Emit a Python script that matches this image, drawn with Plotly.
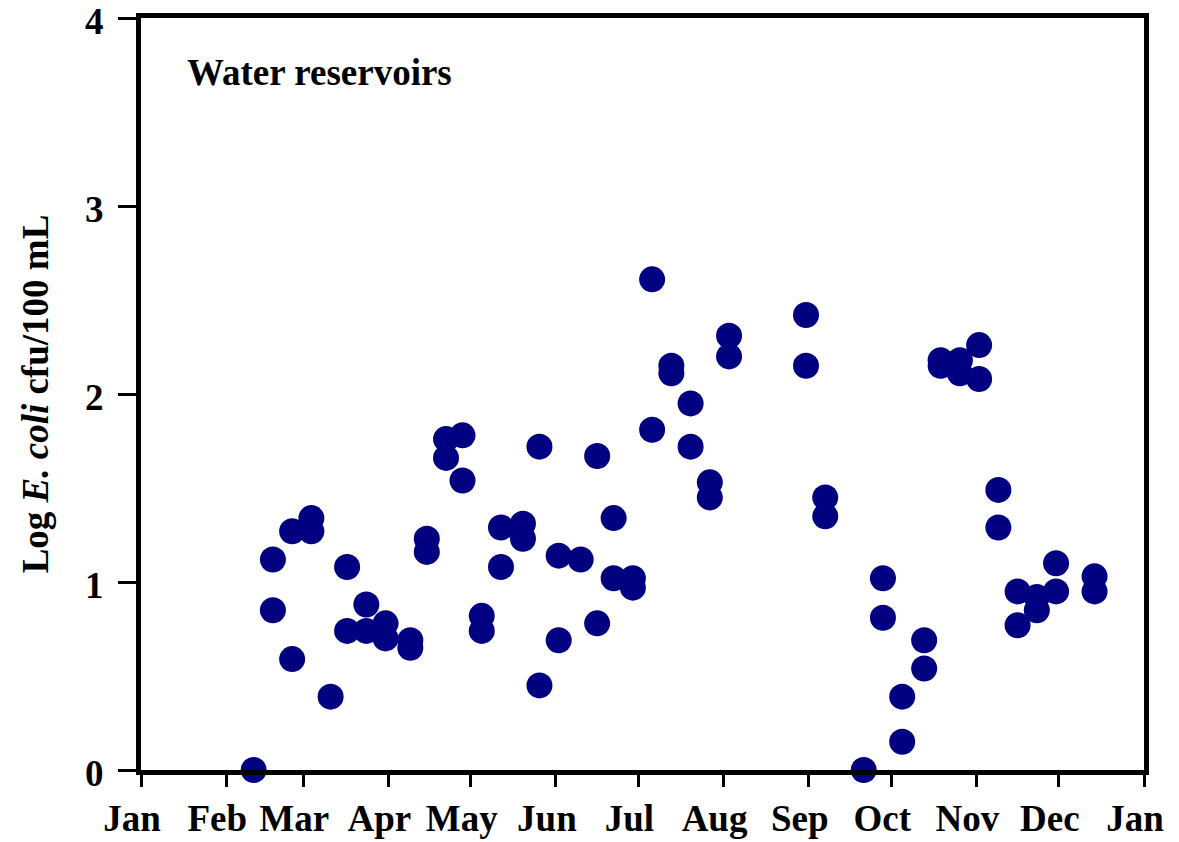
import plotly.graph_objects as go

# sampling dates (2001, non-leap) and log E. coli counts
dates = [
    "2001-02-11",
    "2001-02-18", "2001-02-18",
    "2001-02-25", "2001-02-25",
    "2001-03-04", "2001-03-04",
    "2001-03-11",
    "2001-03-17", "2001-03-17",
    "2001-03-24", "2001-03-24",
    "2001-03-31", "2001-03-31",
    "2001-04-09", "2001-04-09",
    "2001-04-15", "2001-04-15",
    "2001-04-22", "2001-04-22",
    "2001-04-28", "2001-04-28",
    "2001-05-05", "2001-05-05",
    "2001-05-12", "2001-05-12",
    "2001-05-20", "2001-05-20",
    "2001-05-26", "2001-05-26",
    "2001-06-02", "2001-06-02",
    "2001-06-10",
    "2001-06-16", "2001-06-16",
    "2001-06-22", "2001-06-22",
    "2001-06-29", "2001-06-29",
    "2001-07-06", "2001-07-06",
    "2001-07-13", "2001-07-13",
    "2001-07-20", "2001-07-20",
    "2001-07-27", "2001-07-27",
    "2001-08-03", "2001-08-03",
    "2001-08-31", "2001-08-31",
    "2001-09-07", "2001-09-07",
    "2001-09-21",
    "2001-09-28", "2001-09-28",
    "2001-10-05", "2001-10-05",
    "2001-10-13", "2001-10-13",
    "2001-10-19", "2001-10-19",
    "2001-10-26", "2001-10-26",
    "2001-11-02", "2001-11-02",
    "2001-11-09", "2001-11-09",
    "2001-11-16", "2001-11-16",
    "2001-11-23", "2001-11-23",
    "2001-11-30", "2001-11-30",
    "2001-12-14", "2001-12-14",
]
log_ecoli = [
    0.0,
    1.12, 0.85,
    1.27, 0.59,
    1.34, 1.27,
    0.39,
    1.08, 0.74,
    0.88, 0.74,
    0.78, 0.70,
    0.69, 0.65,
    1.23, 1.16,
    1.76, 1.66,
    1.78, 1.54,
    0.82, 0.74,
    1.29, 1.08,
    1.31, 1.23,
    1.72, 0.45,
    1.14, 0.69,
    1.12,
    1.67, 0.78,
    1.34, 1.02,
    1.02, 0.97,
    2.61, 1.81,
    2.15, 2.11,
    1.95, 1.72,
    1.53, 1.45,
    2.31, 2.20,
    2.42, 2.15,
    1.45, 1.35,
    0.0,
    1.02, 0.81,
    0.39, 0.15,
    0.69, 0.54,
    2.18, 2.15,
    2.18, 2.11,
    2.26, 2.08,
    1.49, 1.29,
    0.95, 0.77,
    0.92, 0.85,
    1.10, 0.95,
    1.03, 0.95,
]

month_ticks = ["2001-%02d-01" % m for m in range(1, 13)] + ["2002-01-01"]
month_labels = ["Jan", "Feb", "Mar", "Apr", "May", "Jun", "Jul",
                "Aug", "Sep", "Oct", "Nov", "Dec", "Jan"]
y_ticks = [0, 1, 2, 3, 4]

font = dict(family="Liberation Serif", size=37, color="black", weight="bold")

fig = go.Figure(go.Scatter(
    x=dates, y=log_ecoli, mode="markers",
    marker=dict(size=26, color="#000080"),
    cliponaxis=False,
    showlegend=False,
))

fig.update_layout(
    width=1179, height=842,
    margin=dict(l=141, r=35, t=18, b=72),
    plot_bgcolor="white", paper_bgcolor="white",
    font=font,
    annotations=[dict(
        text="Water reservoirs", xref="paper", yref="paper",
        x=0.044, y=0.927, xanchor="left", yanchor="middle",
        showarrow=False, font=dict(size=37, weight="bold"),
    )],
)

fig.update_xaxes(
    type="date", range=["2001-01-01", "2002-01-01"],
    tickvals=month_ticks, ticktext=month_labels,
    showgrid=False, zeroline=False, automargin=False,
    showline=True, linecolor="black", linewidth=5, mirror=True,
    ticks="outside", ticklen=12, tickwidth=2.5, tickcolor="black",
    ticklabelshift=-9, ticklabeloverflow="allow",
)
fig.update_yaxes(
    range=[0, 4], tickvals=y_ticks,
    showgrid=False, zeroline=False, automargin=False,
    showline=True, linecolor="black", linewidth=5, mirror=True,
    ticks="outside", ticklen=18, tickwidth=2.5, tickcolor="black",
    ticklabelshift=3, ticklabelstandoff=7, ticklabeloverflow="allow",
    title=dict(text="Log <i>E. coli</i> cfu/100 mL", font=dict(size=37), standoff=27),
)

# the page's default body margin would shift the chart by 8px
fig.write_html("out.html", config={"displayModeBar": False},
               post_script="document.body.style.margin='0';")
